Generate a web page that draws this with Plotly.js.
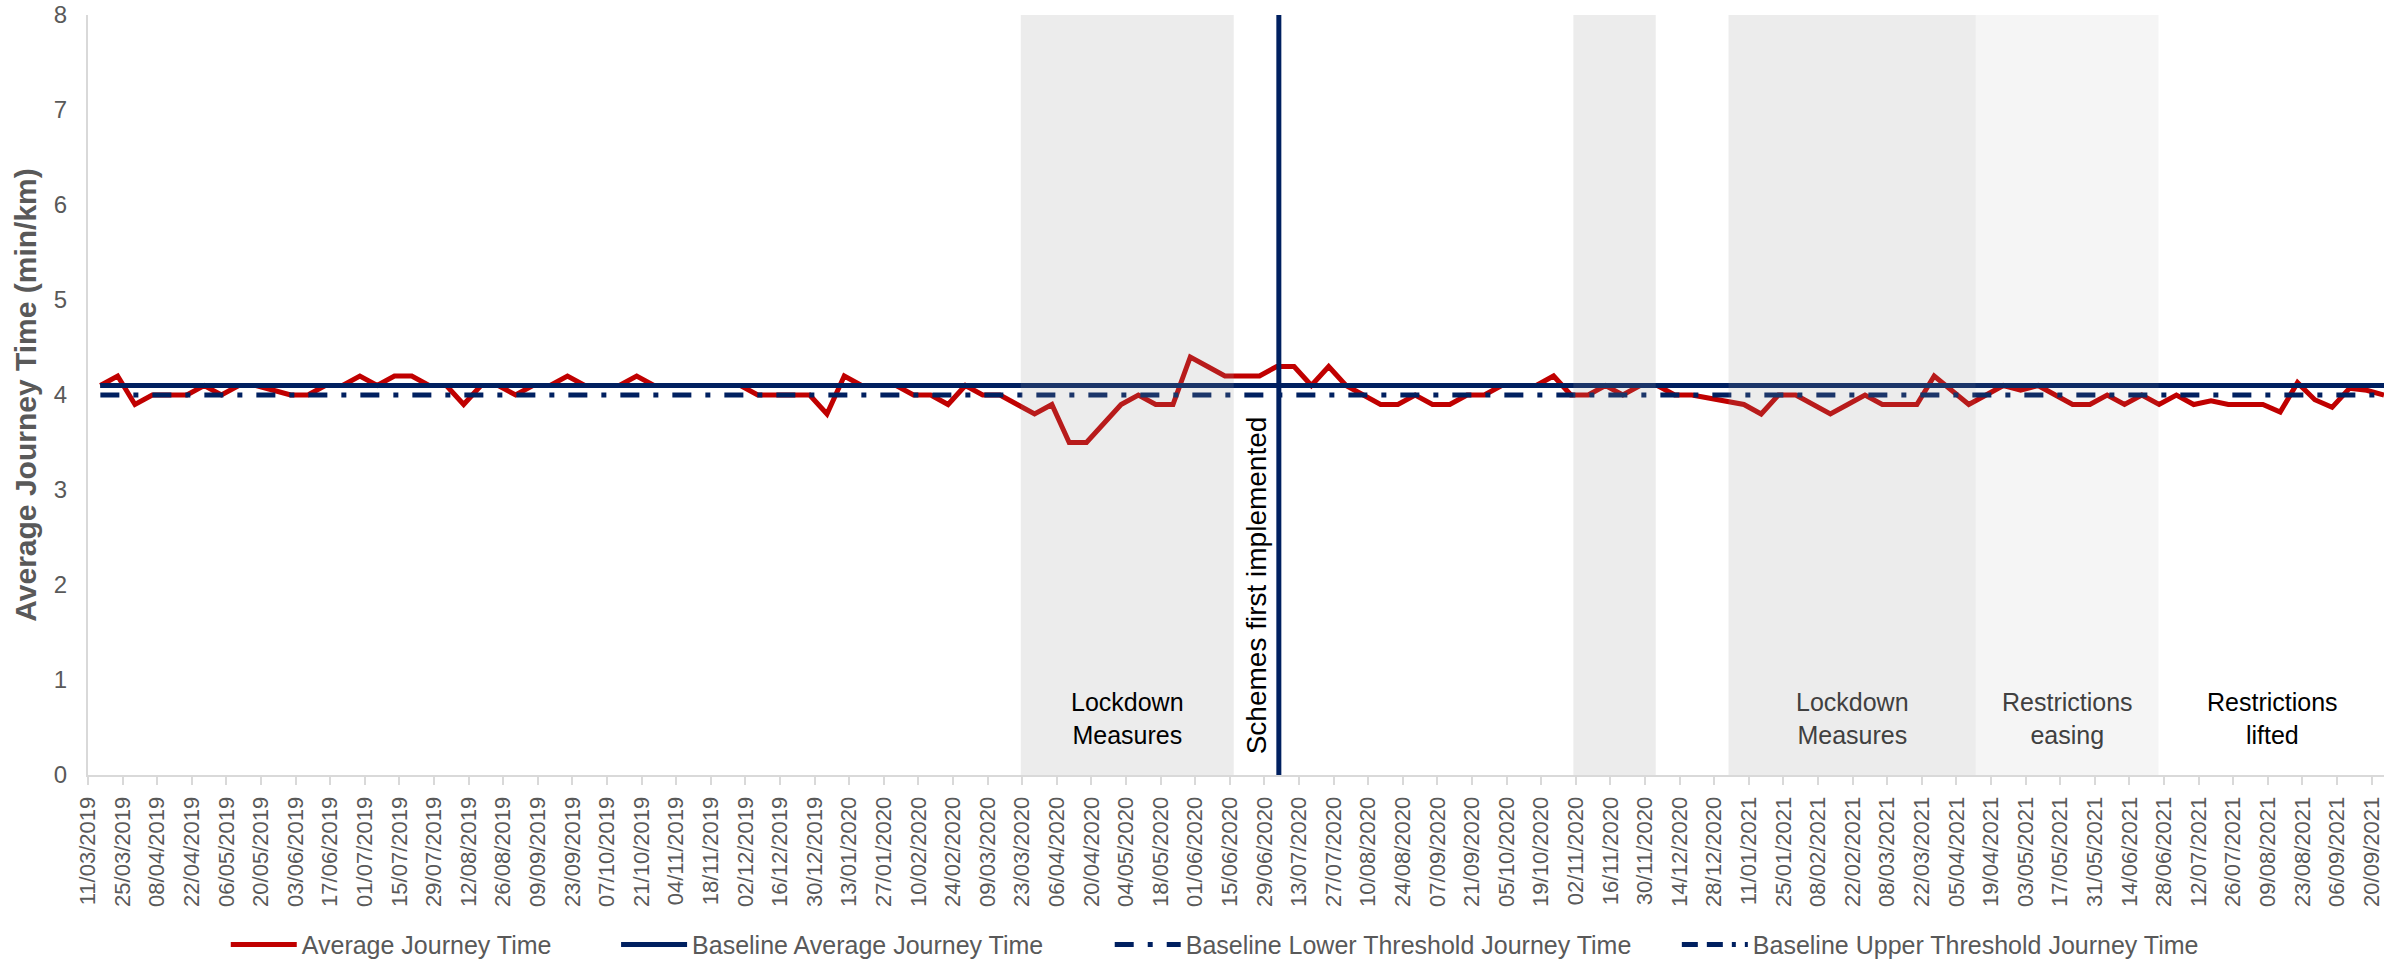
<!DOCTYPE html>
<html>
<head>
<meta charset="utf-8">
<script src="https://cdn.plot.ly/plotly-3.0.1.min.js"></script>
<style>
  html, body { margin: 0; padding: 0; background: #ffffff; }
  #chart { width: 2408px; height: 961px; }
</style>
</head>
<body>
<div id="chart"></div>
<script>
// Week-ending dates of the weekly observations
const weekEnding = [
  '2019-03-16','2019-03-23','2019-03-30','2019-04-06','2019-04-13','2019-04-20','2019-04-27',
  '2019-05-04','2019-05-11','2019-05-18','2019-05-25','2019-06-01','2019-06-08','2019-06-15',
  '2019-06-22','2019-06-29','2019-07-06','2019-07-13','2019-07-20','2019-07-27','2019-08-03',
  '2019-08-10','2019-08-17','2019-08-24','2019-08-31','2019-09-07','2019-09-14','2019-09-21',
  '2019-09-28','2019-10-05','2019-10-12','2019-10-19','2019-10-26','2019-11-02','2019-11-09',
  '2019-11-16','2019-11-23','2019-11-30','2019-12-07','2019-12-14','2019-12-21','2019-12-28',
  '2020-01-04','2020-01-11','2020-01-18','2020-01-25','2020-02-01','2020-02-08','2020-02-15',
  '2020-02-22','2020-02-29','2020-03-07','2020-03-14','2020-03-21','2020-03-28','2020-04-04',
  '2020-04-11','2020-04-18','2020-04-25','2020-05-02','2020-05-09','2020-05-16','2020-05-23',
  '2020-05-30','2020-06-06','2020-06-13','2020-06-20','2020-06-27','2020-07-04','2020-07-11',
  '2020-07-18','2020-07-25','2020-08-01','2020-08-08','2020-08-15','2020-08-22','2020-08-29',
  '2020-09-05','2020-09-12','2020-09-19','2020-09-26','2020-10-03','2020-10-10','2020-10-17',
  '2020-10-24','2020-10-31','2020-11-07','2020-11-14','2020-11-21','2020-11-28','2020-12-05',
  '2020-12-12','2020-12-19','2020-12-26','2021-01-02','2021-01-09','2021-01-16','2021-01-23',
  '2021-01-30','2021-02-06','2021-02-13','2021-02-20','2021-02-27','2021-03-06','2021-03-13',
  '2021-03-20','2021-03-27','2021-04-03','2021-04-10','2021-04-17','2021-04-24','2021-05-01',
  '2021-05-08','2021-05-15','2021-05-22','2021-05-29','2021-06-05','2021-06-12','2021-06-19',
  '2021-06-26','2021-07-03','2021-07-10','2021-07-17','2021-07-24','2021-07-31','2021-08-07',
  '2021-08-14','2021-08-21','2021-08-28','2021-09-04','2021-09-11','2021-09-18','2021-09-25'
];

// Average journey time (min/km)
const avgJourneyTime = [
  4.1, 4.2, 3.9, 4.0, 4.0, 4.0, 4.1, 4.0, 4.1, 4.1,
  4.05, 4.0, 4.0, 4.1, 4.1, 4.2, 4.1, 4.2, 4.2, 4.1,
  4.1, 3.9, 4.1, 4.1, 4.0, 4.1, 4.1, 4.2, 4.1, 4.1,
  4.1, 4.2, 4.1, 4.1, 4.1, 4.1, 4.1, 4.1, 4.0, 4.0,
  4.0, 4.0, 3.8, 4.2, 4.1, 4.1, 4.1, 4.0, 4.0, 3.9,
  4.1, 4.0, 4.0, 3.9, 3.8, 3.9, 3.5, 3.5, 3.7, 3.9,
  4.0, 3.9, 3.9, 4.4, 4.3, 4.2, 4.2, 4.2, 4.3, 4.3,
  4.1, 4.3, 4.1, 4.0, 3.9, 3.9, 4.0, 3.9, 3.9, 4.0,
  4.0, 4.1, 4.1, 4.1, 4.2, 4.0, 4.0, 4.1, 4.0, 4.1,
  4.1, 4.0, 4.0, 3.97, 3.94, 3.9, 3.8, 4.0, 4.0, 3.9,
  3.8, 3.9, 4.0, 3.9, 3.9, 3.9, 4.2, 4.05, 3.9, 4.0,
  4.1, 4.05, 4.1, 4.0, 3.9, 3.9, 4.0, 3.9, 4.0, 3.9,
  4.0, 3.9, 3.94, 3.9, 3.9, 3.9, 3.82, 4.13, 3.95, 3.87,
  4.07, 4.05, 4.0
];

// Baseline reference levels
const baselineAverage = 4.1;
const baselineLower = 4.0;
const baselineUpper = 4.1;

const seriesNames = [
  'Average Journey Time',
  'Baseline Average Journey Time',
  'Baseline Lower Threshold Journey Time',
  'Baseline Upper Threshold Journey Time'
];

// Y-axis ticks
const yTickVals = [0, 1, 2, 3, 4, 5, 6, 7, 8];
const yTickText = ['0', '1', '2', '3', '4', '5', '6', '7', '8'];

// Contextual periods
const periodStarts = ['2020-03-22 10:00', '2020-11-01 00:00', '2021-01-02 19:00', '2021-04-12 19:00'];
const periodEnds   = ['2020-06-16 14:00', '2020-12-04 08:00', '2021-04-12 19:00', '2021-06-25 19:00'];
const periodLabels = ['Lockdown<br>Measures', '', 'Lockdown<br>Measures', 'Restrictions<br>easing'];
const liftedLabel = 'Restrictions<br>lifted';
const liftedLabelDate = '2021-08-11';
const schemeDate = '2020-07-04 20:00';
const schemeLabel = 'Schemes first implemented';

const axisStart = '2019-03-11';
const axisEnd = '2021-09-25';
const firstTick = '2019-03-11';
const DAY = 86400000;

const FONT = 'Liberation Sans, Arial, sans-serif';
const NAVY = '#002060';
const RED = '#C00000';
const GREY = '#595959';

const ends = [weekEnding[0], weekEnding[weekEnding.length - 1]];

const traces = [
  {
    x: weekEnding, y: avgJourneyTime, type: 'scatter', mode: 'lines',
    name: seriesNames[0], legend: 'legend',
    line: { color: RED, width: 5 }
  },
  {
    x: ends, y: [baselineUpper, baselineUpper], type: 'scatter', mode: 'lines',
    name: seriesNames[3], legend: 'legend4',
    line: { color: NAVY, width: 5, dash: '16px,9px,16px,9px,4px,9px' }
  },
  {
    x: ends, y: [baselineAverage, baselineAverage], type: 'scatter', mode: 'lines',
    name: seriesNames[1], legend: 'legend2',
    line: { color: NAVY, width: 5 }
  },
  {
    x: ends, y: [baselineLower, baselineLower], type: 'scatter', mode: 'lines',
    name: seriesNames[2], legend: 'legend3',
    line: { color: NAVY, width: 5, dash: '19px,14px,5px,14px' }
  }
];

const shapes = [];
const annotations = [];
const shadeColors = ['rgba(150,150,150,0.18)', 'rgba(150,150,150,0.18)', 'rgba(150,150,150,0.18)', 'rgba(150,150,150,0.095)'];
const labelColors = ['#000000', '#000000', '#404040', '#404040'];
for (let i = 0; i < periodStarts.length; i++) {
  shapes.push({
    type: 'rect', xref: 'x', yref: 'paper',
    x0: periodStarts[i], x1: periodEnds[i], y0: 0, y1: 1,
    fillcolor: shadeColors[i], line: { width: 0 }, layer: 'above'
  });
  if (periodLabels[i]) {
    const t0 = new Date(periodStarts[i]).getTime();
    const t1 = new Date(periodEnds[i]).getTime();
    annotations.push({
      x: new Date((t0 + t1) / 2).toISOString().slice(0, 19).replace('T', ' '),
      y: 0.6, xref: 'x', yref: 'y',
      text: periodLabels[i], showarrow: false,
      font: { family: FONT, size: 25, color: labelColors[i] },
      align: 'center', xanchor: 'center', yanchor: 'middle'
    });
  }
}
annotations.push({
  x: liftedLabelDate, y: 0.6, xref: 'x', yref: 'y',
  text: liftedLabel, showarrow: false,
  font: { family: FONT, size: 25, color: '#000000' },
  align: 'center', xanchor: 'center', yanchor: 'middle'
});
shapes.push({
  type: 'line', xref: 'x', yref: 'paper',
  x0: schemeDate, x1: schemeDate, y0: 0, y1: 1,
  line: { color: NAVY, width: 5 }, layer: 'above'
});
annotations.push({
  x: schemeDate, y: 2.0, xref: 'x', yref: 'y',
  text: schemeLabel, showarrow: false, textangle: -90,
  font: { family: FONT, size: 28, color: '#000000' },
  xanchor: 'right', yanchor: 'middle', xshift: -5
});

const legendBase = {
  orientation: 'h', yanchor: 'middle', xanchor: 'left',
  yref: 'container', y: 0.017,
  bgcolor: 'rgba(0,0,0,0)', itemwidth: 66,
  font: { family: FONT, size: 25, color: GREY }
};

const layout = {
  width: 2408, height: 961,
  margin: { l: 88, r: 24, t: 15, b: 186, autoexpand: false },
  paper_bgcolor: '#ffffff', plot_bgcolor: '#ffffff',
  font: { family: FONT, color: GREY },
  showlegend: true,
  legend:  Object.assign({}, legendBase, { x: 0.0600 }),
  legend2: Object.assign({}, legendBase, { x: 0.2300 }),
  legend3: Object.assign({}, legendBase, { x: 0.4450 }),
  legend4: Object.assign({}, legendBase, { x: 0.6920 }),
  xaxis: {
    type: 'date', range: [axisStart, axisEnd],
    tick0: firstTick, dtick: 14 * DAY, tickformat: '%d/%m/%Y',
    tickangle: -90, ticks: 'outside', ticklen: 8, tickwidth: 2, tickcolor: '#D9D9D9',
    ticklabelstandoff: 3, ticklabeloverflow: 'allow',
    showline: true, linecolor: '#D9D9D9', linewidth: 2,
    showgrid: false, zeroline: false,
    tickfont: { family: FONT, size: 22, color: GREY }
  },
  yaxis: {
    range: [0, 8], tickmode: 'array', tickvals: yTickVals, ticktext: yTickText,
    showline: true, linecolor: '#D9D9D9', linewidth: 2,
    showgrid: false, zeroline: false, ticks: '',
    ticklabelstandoff: 14, ticklabeloverflow: 'allow',
    tickfont: { family: FONT, size: 24, color: GREY },
    title: { text: 'Average Journey Time (min/km)', standoff: 8,
             font: { family: FONT, size: 30, color: GREY, weight: 'bold' } }
  },
  shapes: shapes,
  annotations: annotations
};

Plotly.newPlot('chart', traces, layout, { staticPlot: true, displayModeBar: false });
</script>
</body>
</html>
